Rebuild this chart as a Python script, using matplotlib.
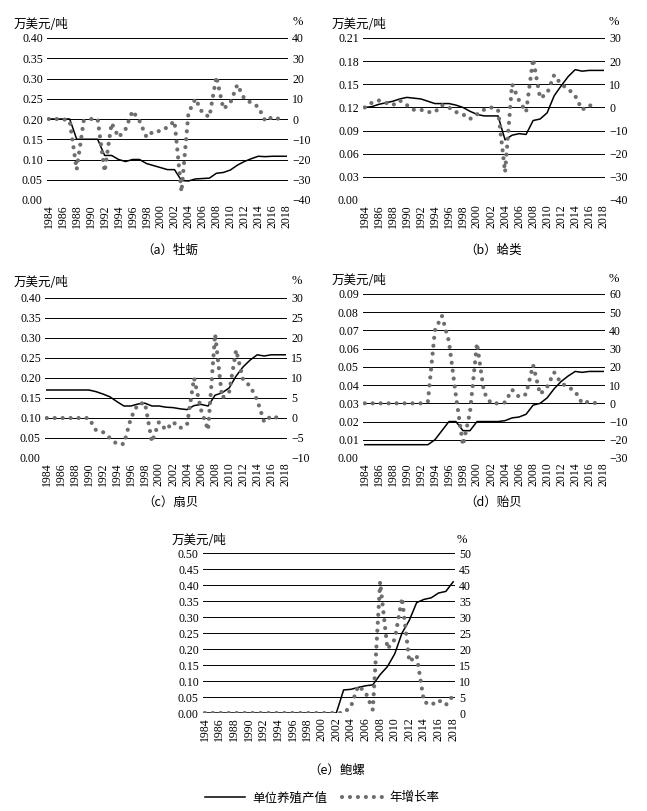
import matplotlib.pyplot as plt
from matplotlib.lines import Line2D

plt.rcParams['font.family'] = ['Liberation Serif', 'Noto Sans CJK SC', 'DejaVu Sans']

years = list(range(1984, 2019))
year_labels = [str(y) if (y - 1984) % 2 == 0 else '' for y in years]

# (a) 牡蛎
oyster_value = [0.20, 0.20, 0.20, 0.20, 0.15, 0.15, 0.15, 0.15, 0.11, 0.11,
                0.10, 0.095, 0.10, 0.10, 0.09, 0.085, 0.08, 0.075, 0.075, 0.048,
                0.047, 0.052, 0.053, 0.054, 0.066, 0.068, 0.074, 0.086, 0.095, 0.102,
                0.108, 0.107, 0.108, 0.108, 0.108]
oyster_growth = [0, 0, 0, -1, -25, -1, 0, 0, -26, -2,
                 -9, -5, 4, -1, -9, -6, -6, -4, -1, -36,
                 3, 10, 3, 1, 21, 5, 8, 17, 10, 8,
                 6, -1, 1, 0]

# (b) 蛤类
clam_value = [0.12, 0.121, 0.124, 0.126, 0.128, 0.131, 0.133, 0.132, 0.131, 0.128,
              0.125, 0.125, 0.125, 0.123, 0.12, 0.115, 0.111, 0.109, 0.109, 0.109,
              0.078, 0.084, 0.086, 0.085, 0.103, 0.105, 0.113, 0.135, 0.148, 0.16,
              0.169, 0.167, 0.168, 0.168, 0.168]
clam_growth = [0, 2, 3, 2, 1, 3, 1, -1, -1, -2,
               -2, 1, 0, -2, -3, -5, -3, -1, 0, -1,
               -28, 10, 3, -2, 21, 4, 6, 14, 10, 8,
               5, -1, 1, 0]

# (c) 扇贝
scallop_value = [0.17, 0.17, 0.17, 0.17, 0.17, 0.17, 0.17, 0.166, 0.16, 0.153,
                 0.141, 0.13, 0.13, 0.135, 0.137, 0.13, 0.13, 0.127, 0.126, 0.123,
                 0.121, 0.131, 0.134, 0.13, 0.157, 0.163, 0.175, 0.205, 0.228, 0.245,
                 0.258, 0.255, 0.258, 0.258, 0.258]
scallop_growth = [0, 0, 0, 0, 0, 0, 0, -3, -3.5, -5,
                  -6.5, -6.5, 0, 3.5, 3.8, -6, -1, -3, -1, -2.5,
                  -1.7, 10, 2, -3, 21, 5, 6.5, 17, 9.5, 8,
                  4.5, -1, 0.5, 0]

# (d) 贻贝
mussel_value = [0.0073, 0.0073, 0.0073, 0.0073, 0.0073, 0.0073, 0.0073, 0.0073, 0.0073, 0.0073,
                0.01, 0.015, 0.02, 0.02, 0.015, 0.015, 0.02, 0.02, 0.02, 0.02,
                0.0205, 0.022, 0.0225, 0.024, 0.029, 0.030, 0.033, 0.038, 0.042, 0.045,
                0.0475, 0.047, 0.0475, 0.0475, 0.0475]
mussel_growth = [0, 0, 0, 0, 0, 0, 0, 0, 0, 1,
                 40, 48, 34, 4, -23, -5, 33, 6, 0, 0,
                 0.5, 7.5, 3.5, 5, 21, 5, 9, 17, 11, 9,
                 6.5, 0, 1, 0]

# (e) 鲍螺
abalone_value = [0] * 19 + [0.072, 0.074, 0.08, 0.085, 0.088, 0.12, 0.145, 0.185, 0.25, 0.29,
                            0.345, 0.355, 0.36, 0.375, 0.38, 0.41]
abalone_growth = [0] * 20 + [2, 8.5, 6.5, 1, 41, 20, 23, 36, 16, 18,
                             3.5, 2.5, 4, 2.5, 5.5]

W, H = 647, 811
DOT_COLOR = '#6e6e6e'
DOT_STYLE = (0, (0.01, 1.9))
fig = plt.figure(figsize=(W / 100, H / 100), dpi=100)


def fig_rect(x0, y0, x1, y1):
    return [x0 / W, 1 - y1 / H, (x1 - x0) / W, (y1 - y0) / H]


def minus(s):
    return s.replace('-', '\u2212')


def panel(rect, value, growth, left_ticks, left_fmt, right_ticks, caption, cap_xy, unit_xy, pct_xy):
    ax = fig.add_axes(fig_rect(*rect))
    x = list(range(len(value)))
    ax.set_xlim(-0.25, len(years) - 0.75)
    ax.set_ylim(left_ticks[0], left_ticks[-1])
    ax.set_yticks(left_ticks)
    ax.set_yticklabels([left_fmt.format(t) for t in left_ticks], fontsize=8.5)
    ax.set_xticks(range(len(years)))
    ax.set_xticklabels(year_labels, rotation=90, fontsize=8.5)
    ax.tick_params(length=0, pad=3)
    for s in ax.spines.values():
        s.set_visible(False)
    ax.grid(axis='y', color='black', linewidth=0.7)
    ax.set_axisbelow(True)
    ax.plot(x, value, color='black', linewidth=1.1, zorder=3)

    ax2 = ax.twinx()
    ax2.set_ylim(right_ticks[0], right_ticks[-1])
    ax2.set_yticks(right_ticks)
    ax2.set_yticklabels([minus(str(t)) for t in right_ticks], fontsize=8.5)
    ax2.tick_params(length=0, pad=3)
    for s in ax2.spines.values():
        s.set_visible(False)
    ax2.plot(range(len(growth)), growth, color=DOT_COLOR, linewidth=3.0,
             linestyle=DOT_STYLE, dash_capstyle='round')

    fig.text(cap_xy[0] / W, 1 - cap_xy[1] / H, caption, ha='center', va='center',
             fontsize=9, family=['Noto Sans CJK SC'])
    fig.text(unit_xy[0] / W, 1 - unit_xy[1] / H, '万美元/吨', ha='left', va='center',
             fontsize=9, family=['Noto Sans CJK SC'])
    fig.text(pct_xy[0] / W, 1 - pct_xy[1] / H, '%', ha='center', va='center', fontsize=9)
    return ax, ax2


panel((47, 38, 288, 200), oyster_value, oyster_growth,
      [0, 0.05, 0.10, 0.15, 0.20, 0.25, 0.30, 0.35, 0.40], '{:.2f}',
      list(range(-40, 41, 10)), '（a）牡蛎', (170, 250), (14, 25), (298, 22))

panel((363, 38, 605, 200), clam_value, clam_growth,
      [0, 0.03, 0.06, 0.09, 0.12, 0.15, 0.18, 0.21], '{:.2f}',
      list(range(-40, 31, 10)), '（b）蛤类', (493, 250), (332, 24), (614, 22))

panel((45, 298, 287, 458), scallop_value, scallop_growth,
      [0, 0.05, 0.10, 0.15, 0.20, 0.25, 0.30, 0.35, 0.40], '{:.2f}',
      list(range(-10, 31, 5)), '（c）扇贝', (170, 502), (14, 283), (297, 281))

panel((363, 294, 605, 458), mussel_value, mussel_growth,
      [0, 0.01, 0.02, 0.03, 0.04, 0.05, 0.06, 0.07, 0.08, 0.09], '{:.2f}',
      list(range(-30, 61, 10)), '（d）贻贝', (493, 502), (332, 281), (614, 279))

panel((203, 553, 455, 713), abalone_value, abalone_growth,
      [0, 0.05, 0.10, 0.15, 0.20, 0.25, 0.30, 0.35, 0.40, 0.45, 0.50], '{:.2f}',
      list(range(0, 51, 5)), '（e）鲍螺', (337, 770), (172, 541), (462, 540))

handles = [Line2D([], [], color='black', linewidth=1.1),
           Line2D([], [], color=DOT_COLOR, linewidth=3.0, linestyle=DOT_STYLE,
                  dash_capstyle='round')]
fig.legend(handles, ['单位养殖产值', '年增长率'], loc='center', ncol=2,
           bbox_to_anchor=(322 / W, 1 - 798 / H), frameon=False, handlelength=3.2,
           columnspacing=1.2, handletextpad=0.6,
           prop={'family': ['Noto Sans CJK SC'], 'size': 9})

fig.savefig('out.png', dpi=100)
